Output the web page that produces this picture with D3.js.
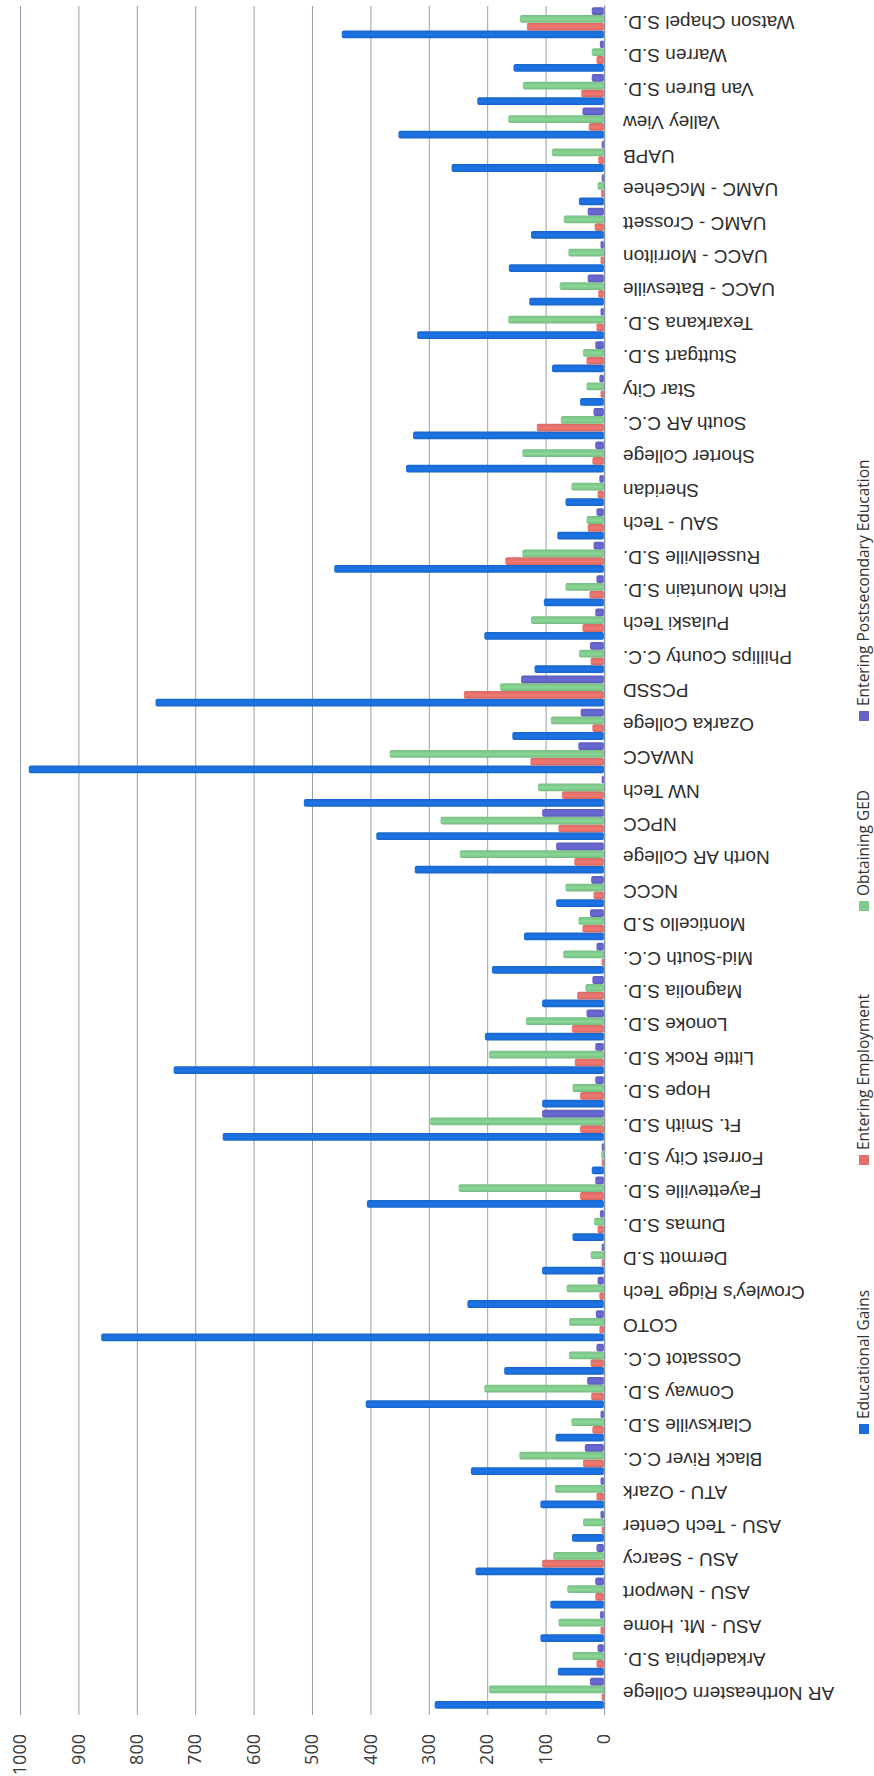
<!DOCTYPE html>
<html>
<head>
<meta charset="utf-8">
<script src="https://cdn.jsdelivr.net/npm/d3@7"></script>
<style>
  body { margin: 0; background: #fff; }
  svg { display: block; }
</style>
</head>
<body>
<svg id="chart" width="874" height="1776"></svg>
<script>
const categories = [
  "AR Northeastern College", "Arkadelphia S.D.", "ASU - Mt. Home", "ASU - Newport", "ASU - Searcy",
  "ASU - Tech Center", "ATU - Ozark", "Black River C.C.", "Clarksville S.D.", "Conway S.D.",
  "Cossatot C.C.", "COTO", "Crowley's Ridge Tech", "Dermott S.D", "Dumas S.D.",
  "Fayetteville S.D.", "Forrest City S.D.", "Ft. Smith S.D.", "Hope S.D.", "Little Rock S.D.",
  "Lonoke S.D.", "Magnolia S.D.", "Mid-South C.C.", "Monticello S.D", "NCCC",
  "North AR College", "NPCC", "NW Tech", "NWACC", "Ozarka College",
  "PCSSD", "Phillips County C.C.", "Pulaski Tech", "Rich Mountain S.D.", "Russellville S.D.",
  "SAU - Tech", "Sheridan", "Shorter College", "South AR C.C.", "Star City",
  "Stuttgart S.D.", "Texarkana S.D.", "UACC - Batesville", "UACC - Morrilton", "UAMC - Crossett",
  "UAMC - McGehee", "UAPB", "Valley View", "Van Buren S.D.", "Warren S.D.",
  "Watson Chapel S.D."
];

const educationalGains = [
  290, 79, 109, 92, 220, 55, 109, 228, 83, 408,
  171, 861, 234, 106, 54, 406, 21, 653, 106, 737,
  204, 106, 192, 137, 82, 324, 390, 514, 985, 157,
  768, 119, 205, 103, 462, 80, 66, 339, 327, 41,
  89, 320, 128, 163, 125, 43, 261, 352, 217, 155,
  449
];
const enteringEmployment = [
  4, 13, 6, 15, 106, 4, 13, 36, 20, 22,
  23, 8, 8, 4, 11, 41, 4, 41, 41, 50,
  55, 46, 4, 37, 18, 51, 78, 72, 126, 20,
  240, 23, 37, 25, 169, 28, 11, 20, 115, 6,
  30, 13, 10, 6, 16, 5, 10, 26, 39, 13,
  132
];
const obtainingGED = [
  197, 54, 78, 63, 87, 36, 84, 145, 56, 205,
  60, 60, 64, 23, 17, 249, 5, 298, 54, 197,
  134, 32, 70, 44, 66, 247, 280, 113, 367, 91,
  178, 43, 125, 66, 140, 30, 56, 140, 74, 30,
  36, 164, 76, 61, 69, 11, 89, 164, 139, 21,
  144
];
const enteringPostsecondary = [
  24, 11, 7, 15, 13, 6, 6, 33, 6, 29,
  13, 14, 11, 4, 7, 15, 4, 106, 15, 15,
  30, 20, 13, 24, 22, 82, 106, 4, 44, 40,
  142, 24, 15, 13, 18, 13, 8, 15, 18, 8,
  15, 6, 28, 6, 28, 4, 4, 37, 21, 7,
  21
];

const seriesNames = ["Educational Gains", "Entering Employment", "Obtaining GED", "Entering Postsecondary Education"];
const seriesValues = [educationalGains, enteringEmployment, obtainingGED, enteringPostsecondary];
const seriesColors = ["#1a6dd8", "#e2706a", "#80c88b", "#6363c6"];
const valueTicks = d3.range(0, 1001, 100);

const svg = d3.select("#chart");
const width = +svg.attr("width");
const height = +svg.attr("height");

// the scanned page is a column chart turned on its side,
// so draw it upright and rotate the whole group
const plot = { left: 66, right: 1770, top: 20, bottom: 604 };
const g = svg.append("g")
  .attr("transform", `translate(0,${height}) rotate(-90)`);

const x0 = d3.scaleBand()
  .domain(categories)
  .range([plot.left, plot.right])
  .paddingInner(0.07)
  .paddingOuter(0.035);

const x1 = d3.scaleBand()
  .domain(seriesNames)
  .range([0, x0.bandwidth()]);

const y = d3.scaleLinear()
  .domain([0, 1000])
  .range([plot.bottom, plot.top]);

// bar shading
const defs = svg.append("defs");
seriesColors.forEach((c, i) => {
  const grad = defs.append("linearGradient")
    .attr("id", "grad" + i)
    .attr("x1", 0).attr("x2", 1).attr("y1", 0).attr("y2", 0);
  grad.append("stop").attr("offset", "0%").attr("stop-color", d3.color(c).darker(0.2));
  grad.append("stop").attr("offset", "45%").attr("stop-color", d3.color(c).brighter(0.2));
  grad.append("stop").attr("offset", "100%").attr("stop-color", d3.color(c).darker(0.15));
});

// gridlines
g.append("g")
  .attr("transform", `translate(${plot.left},0)`)
  .call(d3.axisLeft(y).tickValues(valueTicks).tickSize(-(plot.right - plot.left)).tickFormat(""))
  .call(a => a.select(".domain").remove())
  .call(a => a.selectAll("line").attr("stroke", "#95a0ae").attr("stroke-width", 1));

// value axis ticks + labels
g.append("g")
  .attr("transform", `translate(${plot.left},0)`)
  .call(d3.axisLeft(y).tickValues(valueTicks).tickSize(5).tickPadding(19).tickFormat(d3.format("d")))
  .call(a => a.select(".domain").remove())
  .call(a => a.selectAll("line").attr("stroke", "#95a0ae"))
  .call(a => a.selectAll("text")
    .attr("font-family", "'Open Sans', sans-serif")
    .attr("font-size", 18)
    .attr("fill", "#3a3a3a"));

// bars
const groups = g.append("g")
  .selectAll("g")
  .data(categories)
  .join("g")
  .attr("transform", d => `translate(${x0(d)},0)`);

groups.selectAll("rect")
  .data((d, ci) => seriesNames.map((s, si) => ({ series: s, si, value: seriesValues[si][ci] })))
  .join("rect")
  .attr("x", d => x1(d.series))
  .attr("width", x1.bandwidth())
  .attr("y", d => y(d.value))
  .attr("height", d => y(0) - y(d.value))
  .attr("rx", 2)
  .attr("fill", d => `url(#grad${d.si})`);

// category axis
g.append("g")
  .attr("transform", `translate(0,${plot.bottom})`)
  .call(d3.axisBottom(x0).tickSize(0).tickSizeOuter(0))
  .call(a => a.select(".domain").attr("stroke", "#8a95a3").attr("stroke-width", 1.5))
  .call(a => a.selectAll("text")
    .attr("transform", "rotate(-90)")
    .attr("x", -19)
    .attr("y", 0)
    .attr("dy", "0.35em")
    .attr("text-anchor", "end")
    .attr("font-family", "'Liberation Sans', Arial, sans-serif")
    .attr("font-size", 19)
    .attr("fill", "#2e2e2e"));

// legend
const legendPos = [347, 616, 870, 1060];
const legend = g.append("g")
  .attr("transform", "translate(0,864)");

const items = legend.selectAll("g")
  .data(seriesNames)
  .join("g")
  .attr("transform", (d, i) => `translate(${legendPos[i]},0)`);

items.append("rect")
  .attr("x", -5).attr("y", -5)
  .attr("width", 10).attr("height", 10)
  .attr("fill", (d, i) => seriesColors[i]);

items.append("text")
  .attr("x", 10)
  .attr("dy", "0.35em")
  .attr("font-family", "'Open Sans', sans-serif")
  .attr("font-size", 15.5)
  .attr("fill", "#333")
  .text(d => d);
</script>
</body>
</html>
